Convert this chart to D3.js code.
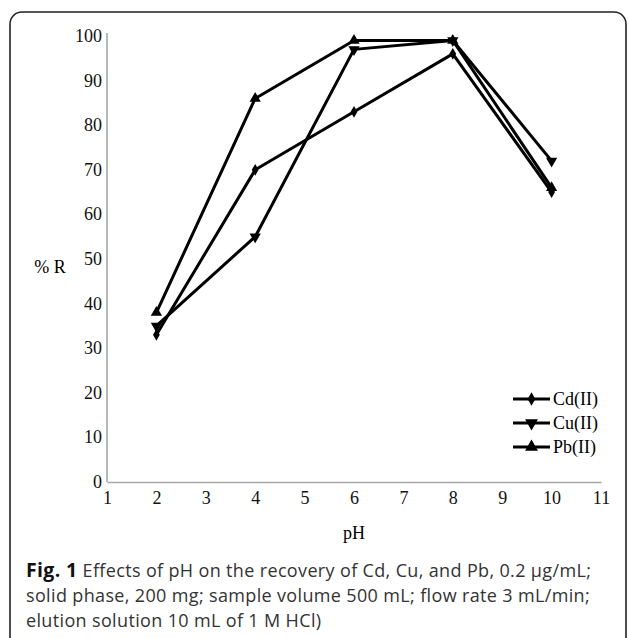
<!DOCTYPE html>
<html>
<head>
<meta charset="utf-8">
<script src="https://cdn.jsdelivr.net/npm/d3@7"></script>
<style>
  body { margin: 0; background: #fff; }
</style>
</head>
<body>
<script>
const WIDTH = 629;
const HEIGHT = 638;

// data
const phValues = [2, 4, 6, 8, 10];
const cdValues = [33, 70, 83, 96, 65];
const cuValues = [35, 55, 97, 99, 72];
const pbValues = [38, 86, 99, 99, 66];
const seriesNames = ['Cd(II)', 'Cu(II)', 'Pb(II)'];
const xTicks = [1, 2, 3, 4, 5, 6, 7, 8, 9, 10, 11];
const yTicks = [0, 10, 20, 30, 40, 50, 60, 70, 80, 90, 100];
const captionLines = [
  ['Fig. 1', ' Effects of pH on the recovery of Cd, Cu, and Pb, 0.2 μg/mL;'],
  ['', 'solid phase, 200 mg; sample volume 500 mL; flow rate 3 mL/min;'],
  ['', 'elution solution 10 mL of 1 M HCl)']
];

const series = [
  { name: seriesNames[0], values: cdValues, symbol: d3.symbolDiamond, size: 40, rot: 0 },
  { name: seriesNames[1], values: cuValues, symbol: d3.symbolTriangle, size: 55, rot: 180 },
  { name: seriesNames[2], values: pbValues, symbol: d3.symbolTriangle, size: 55, rot: 0 }
];

let svg = d3.select('body').append('svg')
  .attr('width', WIDTH)
  .attr('height', HEIGHT);

// frame round the figure (bottom runs off the page)
svg.append('rect')
  .attr('x', 10).attr('y', 12)
  .attr('width', 616).attr('height', 660)
  .attr('rx', 12)
  .attr('fill', 'none')
  .attr('stroke', '#222')
  .attr('stroke-width', 1.6);

const x = d3.scaleLinear().domain([1, 11]).range([107, 601]);
const y = d3.scaleLinear().domain([0, 100]).range([482, 36]);

const serif = '"Liberation Serif", "Times New Roman", serif';

// axes
let xAxis = svg.append('g')
  .attr('transform', `translate(0,${y(0)})`)
  .call(d3.axisBottom(x).tickValues(xTicks).tickSize(0).tickPadding(9));
let yAxis = svg.append('g')
  .attr('transform', `translate(${x(1)},0)`)
  .call(d3.axisLeft(y).tickValues(yTicks).tickSize(0).tickPadding(5));

[xAxis, yAxis].forEach(a => {
  a.select('.domain').attr('stroke', '#a6a6a6').attr('stroke-width', 1.6);
  a.selectAll('text')
    .attr('font-family', serif)
    .attr('font-size', 18)
    .attr('fill', '#111');
});
yAxis.select('.domain').attr('d', `M0,${y(0)}V33`);
yAxis.selectAll('text').attr('dy', '0.3em');

// axis titles
svg.append('text')
  .attr('x', 50).attr('y', 273)
  .attr('text-anchor', 'middle')
  .attr('font-family', serif).attr('font-size', 18)
  .text('% R');
svg.append('text')
  .attr('x', x(6)).attr('y', 539)
  .attr('text-anchor', 'middle')
  .attr('font-family', serif).attr('font-size', 18)
  .text('pH');

// lines and markers
let line = d3.line()
  .x((d, i) => x(phValues[i]))
  .y(d => y(d));

series.forEach(s => {
  svg.append('path')
    .datum(s.values)
    .attr('d', line)
    .attr('fill', 'none')
    .attr('stroke', '#000')
    .attr('stroke-width', 3)
    .attr('stroke-linejoin', 'round');
  svg.selectAll(null)
    .data(s.values)
    .enter().append('path')
    .attr('d', d3.symbol().type(s.symbol).size(s.size))
    .attr('transform', (d, i) => `translate(${x(phValues[i])},${y(d)}) rotate(${s.rot})`)
    .attr('fill', '#000');
});

// legend
const legendY = [399, 423, 447];
series.forEach((s, i) => {
  let g = svg.append('g').attr('transform', `translate(513,${legendY[i]})`);
  g.append('line')
    .attr('x1', 0).attr('x2', 37)
    .attr('stroke', '#000').attr('stroke-width', 3);
  g.append('path')
    .attr('d', d3.symbol().type(s.symbol).size(s.size * 1.3))
    .attr('transform', `translate(18.5,0) rotate(${s.rot})`);
  g.append('text')
    .attr('x', 40).attr('y', 6)
    .attr('font-family', serif).attr('font-size', 18)
    .text(s.name);
});

// caption
let caption = svg.append('text')
  .attr('font-family', '"Open Sans", sans-serif')
  .attr('font-size', 18)
  .attr('letter-spacing', 0.35)
  .attr('fill', '#333');
captionLines.forEach((ln, i) => {
  let t = caption.append('tspan').attr('x', 26).attr('y', 577 + i * 25);
  if (ln[0]) t.append('tspan').attr('font-weight', 'bold').attr('font-size', 19.5).attr('fill', '#111').text(ln[0]);
  t.append('tspan').text(ln[1]);
});
</script>
</body>
</html>
